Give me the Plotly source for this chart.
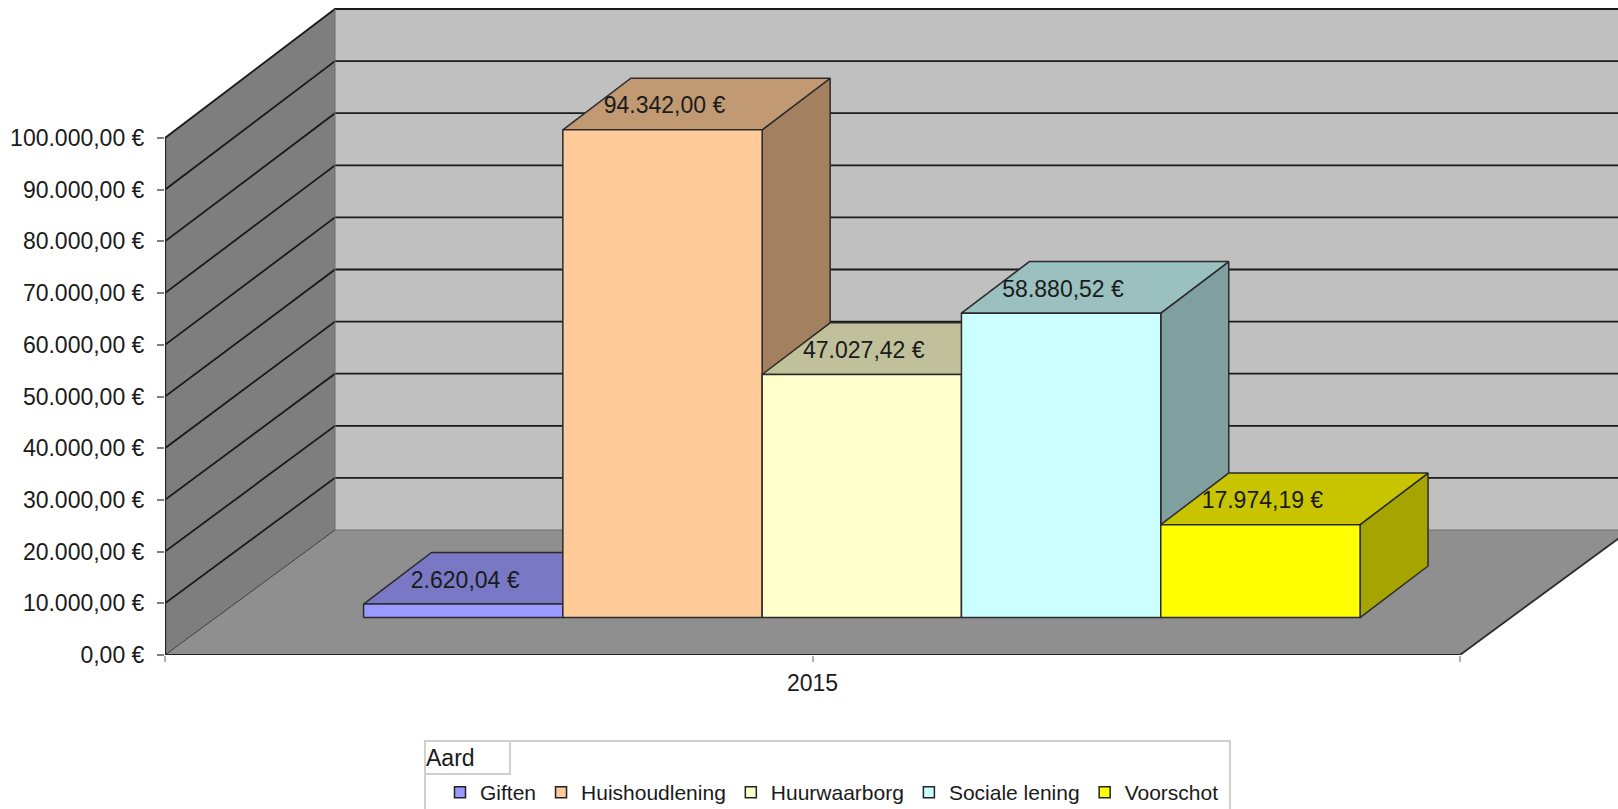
import plotly.graph_objects as go

# ---- data ----
categories = ["2015"]
legend_title = "Aard"
series_names = ["Giften", "Huishoudlening", "Huurwaarborg", "Sociale lening", "Voorschot"]
series_values = [2620.04, 94342.00, 47027.42, 58880.52, 17974.19]
y_ticks = [0, 10000, 20000, 30000, 40000, 50000, 60000, 70000, 80000, 90000, 100000]

# ---- styles ----
front_colors = ["#9999FF", "#FFCC99", "#FFFFCC", "#CCFFFF", "#FFFF00"]
top_colors = ["#7878C4", "#C19A73", "#C0C09A", "#9AC0C0", "#C8C400"]
side_colors = ["#6666A8", "#A28060", "#A0A080", "#80A0A0", "#A6A400"]
WALL_BACK, WALL_LEFT, FLOOR = "#C0C0C0", "#7E7E7E", "#8F8F8F"
EDGE = "#2B2B2B"
FONT = "Liberation Sans"

# ---- page geometry (pixels); the page's body margin is removed below ----
W, H = 1618, 809
L, B = 165, 655                     # origin in figure pixels
PX_X = 1295                         # px for the category axis
PX_Y = 517                          # px for 0..100 000
DEPTH_X, DEPTH_Y = 170, 129         # oblique depth of the chart box (at the top)
DEPTH_Y_FLOOR = 125                 # oblique depth measured at the floor

# ---- oblique projection helpers ----
dx = DEPTH_X / PX_X
dy = DEPTH_Y / PX_Y * 100000
dy_floor = DEPTH_Y_FLOOR / PX_Y * 100000
y_top = max(y_ticks)
x_max = (W - L) / PX_X
y_max = B / PX_Y * 100000
bar_w = 0.1539
gap_front, gap_back = 0.29, 0.69


def back_y(t):
    """Height on the back wall of the axis value t."""
    return dy_floor + t * (y_top + dy - dy_floor) / y_top


def fmt(v):
    s = f"{v:,.2f}"
    return s.replace(",", "#").replace(".", ",").replace("#", ".") + " €"


def poly(fig, pts, fill, line=EDGE, width=1.5):
    fig.add_trace(go.Scatter(
        x=[p[0] for p in pts] + [pts[0][0]],
        y=[p[1] for p in pts] + [pts[0][1]],
        mode="lines", fill="toself", fillcolor=fill,
        line=dict(color=line, width=width),
        showlegend=False, hoverinfo="skip"))


def seg(fig, pts, color="#1A1A1A", width=1.8, clip=True):
    fig.add_trace(go.Scatter(
        x=[p[0] for p in pts], y=[p[1] for p in pts], mode="lines",
        line=dict(color=color, width=width),
        showlegend=False, hoverinfo="skip", cliponaxis=clip))


fig = go.Figure()

# walls and floor
poly(fig, [(dx, back_y(0)), (1 + dx, back_y(0)), (1 + dx, back_y(y_top)), (dx, back_y(y_top))], WALL_BACK, WALL_BACK, 0)
poly(fig, [(0, 0), (dx, back_y(0)), (dx, back_y(y_top)), (0, y_top)], WALL_LEFT, WALL_LEFT, 0)
poly(fig, [(0, 0), (1, 0), (1 + dx, back_y(0)), (dx, back_y(0))], FLOOR, FLOOR, 0)

# grid on both walls
for t in y_ticks[1:]:
    seg(fig, [(0, t), (dx, back_y(t)), (1 + dx, back_y(t))])
seg(fig, [(dx, back_y(0)), (1 + dx, back_y(0))], "#6E6E6E", 1.2)
seg(fig, [(dx, back_y(0)), (dx, back_y(y_top))], "#6E6E6E", 1)
seg(fig, [(0, 0), (dx, back_y(0))], "#3A3A3A", 1)
seg(fig, [(1, 0), (1 + dx, back_y(0))], "#2B2B2B", 1.8)

# axis lines
seg(fig, [(0, 0), (1, 0)], "#222222", 2.2, clip=False)
seg(fig, [(0, 0), (0, y_top)], "#222222", 2.2, clip=False)

# bars, painted left to right
x_start = 0.5 - len(series_values) / 2 * bar_w
label_x, label_y, labels = [], [], []
for i, v in enumerate(series_values):
    x0 = x_start + i * bar_w + gap_front * dx
    x1 = x0 + bar_w
    y0 = gap_front * dy
    y1 = y0 + v
    ox = (gap_back - gap_front) * dx
    oy = (gap_back - gap_front) * dy
    poly(fig, [(x1, y0), (x1 + ox, y0 + oy), (x1 + ox, y1 + oy), (x1, y1)], side_colors[i])
    poly(fig, [(x0, y1), (x1, y1), (x1 + ox, y1 + oy), (x0 + ox, y1 + oy)], top_colors[i])
    poly(fig, [(x0, y0), (x1, y0), (x1, y1), (x0, y1)], front_colors[i])
    label_x.append((x0 + x1) / 2 + 2 / PX_X)
    label_y.append(y1 + oy * 0.43)
    labels.append(fmt(v))

fig.add_trace(go.Scatter(
    x=label_x, y=label_y, text=labels, mode="text", textposition="middle center",
    textfont=dict(family=FONT, size=23, color="#1A1A1A"),
    showlegend=False, hoverinfo="skip", cliponaxis=False))

# legend entries
for name, color in zip(series_names, front_colors):
    fig.add_trace(go.Scatter(
        x=[None], y=[None], name=name, mode="markers",
        marker=dict(symbol="square", size=11, color=color, line=dict(color="#222222", width=1.5))))


def px_x(p):
    """page px -> paper x"""
    return (p - L) / (W - L)


def px_y(p):
    """page px -> paper y"""
    return (B - p) / B


fig.update_layout(
    width=W, height=H, autosize=False,
    margin=dict(l=L, r=0, t=0, b=H - B, pad=0, autoexpand=False),
    paper_bgcolor="white", plot_bgcolor="white",
    font=dict(family=FONT, size=21, color="#1A1A1A"),
    hovermode=False,
    xaxis=dict(
        range=[0, x_max], tickmode="array", tickvals=[0, 0.5, 1],
        ticktext=["", categories[0], ""], ticks="outside", ticklen=6, tickwidth=1.5,
        tickcolor="#B0B0B0", showgrid=False, zeroline=False, showline=False,
        tickfont=dict(family=FONT, size=23, color="#1A1A1A"), ticklabelstandoff=1),
    yaxis=dict(
        range=[0, y_max], tickmode="array", tickvals=y_ticks,
        ticktext=[fmt(t) for t in y_ticks], ticks="outside", ticklen=7, tickwidth=1.5,
        tickcolor="#808080", showgrid=False, zeroline=False, showline=False,
        tickfont=dict(family=FONT, size=23, color="#1A1A1A"), ticklabelstandoff=8),
    legend=dict(
        orientation="h", x=px_x(440), y=px_y(772), xanchor="left", yanchor="top",
        bgcolor="rgba(0,0,0,0)", borderwidth=0, traceorder="normal",
        font=dict(family=FONT, size=21, color="#1A1A1A")),
    annotations=[
        dict(text=legend_title, xref="paper", yref="paper", x=px_x(424), y=px_y(758),
             xanchor="left", yanchor="middle", showarrow=False, xshift=0,
             font=dict(family=FONT, size=23, color="#1A1A1A")),
    ],
    shapes=[
        dict(type="rect", xref="paper", yref="paper", layer="below",
             x0=px_x(425), x1=px_x(1230), y0=px_y(815), y1=px_y(741),
             line=dict(color="#D0D0D0", width=2), fillcolor="white"),
        dict(type="rect", xref="paper", yref="paper", layer="below",
             x0=px_x(425), x1=px_x(510), y0=px_y(774), y1=px_y(741),
             line=dict(color="#D0D0D0", width=2), fillcolor="white"),
    ],
)

fig.write_html(
    "out.html",
    config={"displayModeBar": False},
    post_script="document.body.style.margin='0';document.body.style.overflow='hidden';",
)
